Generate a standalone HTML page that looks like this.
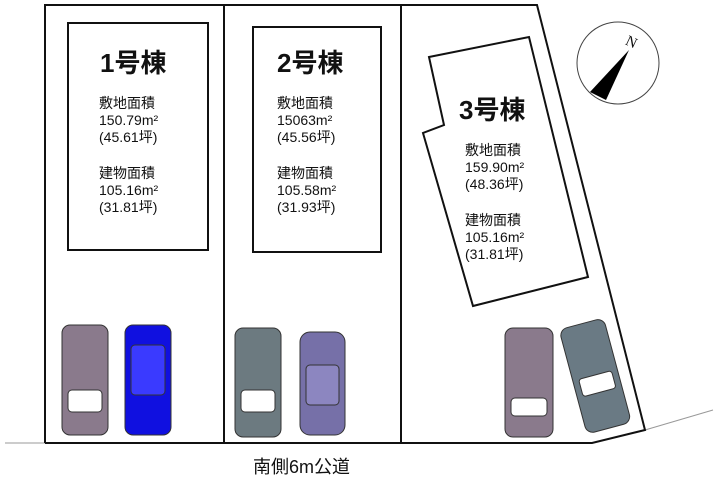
<!DOCTYPE html>
<html><head><meta charset="utf-8"><style>
body{margin:0;background:#fff;width:718px;height:484px;overflow:hidden}
svg{display:block}
text{font-family:"Liberation Sans","Noto Sans CJK JP",sans-serif;fill:#111}
.t{font-size:26px;font-weight:bold}
.s{font-size:14px}
</style></head><body>
<svg width="718" height="484" viewBox="0 0 718 484">
<line x1="5" y1="443" x2="45" y2="443" stroke="#999" stroke-width="1"/>
<line x1="645" y1="430" x2="713" y2="410" stroke="#999" stroke-width="1"/>
<polyline points="45,443 45,5 537,5 645,430 592,443 45,443" fill="none" stroke="#111" stroke-width="2"/>
<line x1="224" y1="5" x2="224" y2="443" stroke="#111" stroke-width="2"/>
<line x1="401" y1="5" x2="401" y2="443" stroke="#111" stroke-width="2"/>
<rect x="68" y="23" width="140" height="227" fill="none" stroke="#111" stroke-width="2"/>
<rect x="253" y="27" width="128" height="225" fill="none" stroke="#111" stroke-width="2"/>
<polygon points="429,57 529,37 588,277 473,306 423,133 444,125" fill="none" stroke="#111" stroke-width="2"/>
<text class="t" x="100" y="72">1号棟</text>
<text class="s" x="99" y="108">敷地面積</text><text class="s" x="99" y="125">150.79m²</text><text class="s" x="99" y="142">(45.61坪)</text>
<text class="s" x="99" y="178">建物面積</text><text class="s" x="99" y="195">105.16m²</text><text class="s" x="99" y="212">(31.81坪)</text>
<text class="t" x="277" y="72">2号棟</text>
<text class="s" x="277" y="108">敷地面積</text><text class="s" x="277" y="125">15063m²</text><text class="s" x="277" y="142">(45.56坪)</text>
<text class="s" x="277" y="178">建物面積</text><text class="s" x="277" y="195">105.58m²</text><text class="s" x="277" y="212">(31.93坪)</text>
<text class="t" x="459" y="119">3号棟</text>
<text class="s" x="465" y="155">敷地面積</text><text class="s" x="465" y="172">159.90m²</text><text class="s" x="465" y="189">(48.36坪)</text>
<text class="s" x="465" y="225">建物面積</text><text class="s" x="465" y="242">105.16m²</text><text class="s" x="465" y="259">(31.81坪)</text>
<circle cx="618" cy="63" r="41" fill="none" stroke="#444" stroke-width="1"/>
<polygon points="629,50 590,92 606,100" fill="#000"/>
<text x="626" y="47" style="font-size:15px;font-family:'Liberation Serif',serif" transform="rotate(25 632 42)">N</text>
<g stroke="#333" stroke-width="1">
<rect x="62" y="325" width="46" height="110" rx="8" fill="#8a7a8c"/>
<rect x="68" y="390" width="34" height="22" rx="4" fill="#fff"/>
<rect x="125" y="325" width="46" height="110" rx="8" fill="#1010e0"/>
<rect x="131" y="345" width="34" height="50" rx="4" fill="#3a3aff"/>
<rect x="235" y="328" width="46" height="109" rx="8" fill="#6c7a80"/>
<rect x="241" y="390" width="34" height="22" rx="4" fill="#fff"/>
<rect x="300" y="332" width="45" height="103" rx="10" fill="#7670a8"/>
<rect x="306" y="365" width="33" height="40" rx="4" fill="#8c86c0"/>
<rect x="505" y="328" width="48" height="109" rx="8" fill="#8a7a8c"/>
<rect x="511" y="398" width="36" height="18" rx="4" fill="#fff"/>
<g transform="rotate(-15 595 375)"><rect x="572" y="322" width="46" height="108" rx="8" fill="#6a7a84"/>
<rect x="578" y="375" width="34" height="18" rx="3" fill="#fff"/></g>
</g>
<text x="253" y="473" style="font-size:18px">南側6m公道</text>
</svg>
</body></html>
